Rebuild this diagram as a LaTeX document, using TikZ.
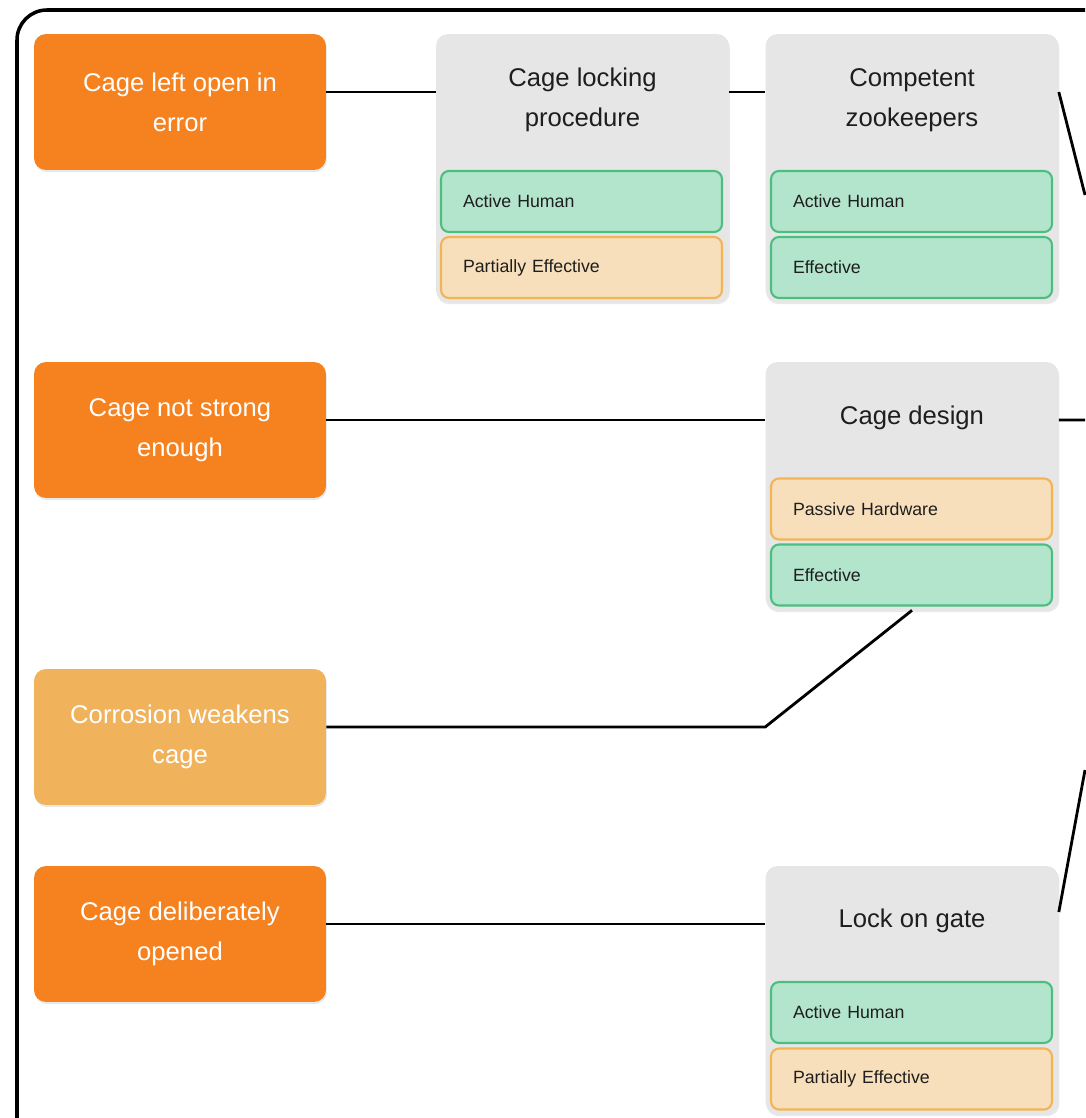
\documentclass[tikz,border=0pt]{standalone}
\usepackage{fontspec}
\setmainfont{Liberation Sans}
\usetikzlibrary{shadows}
\definecolor{causeorange}{RGB}{245,130,31}
\definecolor{causelight}{RGB}{240,178,90}
\definecolor{cardgray}{RGB}{230,230,230}
\definecolor{goodfill}{RGB}{179,229,204}
\definecolor{gooddraw}{RGB}{76,191,128}
\definecolor{partfill}{RGB}{248,223,187}
\definecolor{partdraw}{RGB}{242,180,85}
\definecolor{inkdark}{RGB}{30,30,30}
\begin{document}
\begin{tikzpicture}[x=0.02cm,y=-0.02cm,
	cause/.style={rectangle, rounded corners=0.24cm, fill=causeorange, text=white,
		minimum width=5.84cm, minimum height=2.72cm, align=center,
		font=\fontsize{14.6}{22.7}\selectfont,
		drop shadow={opacity=0.18, shadow xshift=0.5pt, shadow yshift=-1.2pt}},
	card/.style={rectangle, rounded corners=0.24cm, fill=cardgray,
		minimum width=5.86cm, minimum height=#1,
		drop shadow={opacity=0.18, shadow xshift=0.5pt, shadow yshift=-1.2pt}},
	cardtitle/.style={text=inkdark, align=center, font=\fontsize{14.6}{22.7}\selectfont},
	tag/.style={rectangle, rounded corners=0.16cm, line width=1.2pt,
		text width=4.74cm, inner xsep=0.44cm, minimum height=1.22cm, align=left,
		text=inkdark, font=\fontsize{10.1}{12}\selectfont},
	good/.style={tag, fill=goodfill, draw=gooddraw},
	part/.style={tag, fill=partfill, draw=partdraw},
	link/.style={line width=1.6pt, black},
]
	\useasboundingbox (0,0) rectangle (1085,1118);
	\begin{scope}
		\clip (0,0) rectangle (1085,1118);
		\draw[line width=2pt, rounded corners=0.6cm] (17,10) rectangle (1120,1150);
	\end{scope}

	% causes
	\node[cause] (left) at (180,102) {Cage left open in\\error};
	\node[cause] (weak) at (180,430) {Cage not strong\\enough};
	\node[cause, fill=causelight] (rust) at (180,737) {Corrosion weakens\\cage};
	\node[cause] (open) at (180,934) {Cage deliberately\\opened};

	% barriers
	\node[card=5.36cm] (lockproc) at (582.5,168) {};
	\node[cardtitle] at (582.5,100) {Cage locking\\procedure};
	\node[good] at (581.5,201.5) {Active Human};
	\node[part] at (581.5,267.5) {Partially Effective};

	\node[card=5.36cm] (keepers) at (912,168) {};
	\node[cardtitle] at (912,100) {Competent\\zookeepers};
	\node[good] at (911.5,201.5) {Active Human};
	\node[good] at (911.5,267.5) {Effective};

	\node[card=4.96cm] (design) at (912,486) {};
	\node[cardtitle] at (912,418) {Cage design};
	\node[part] at (911.5,509) {Passive Hardware};
	\node[good] at (911.5,575) {Effective};

	\node[card=4.96cm] (gatelock) at (912,990) {};
	\node[cardtitle] at (912,921) {Lock on gate};
	\node[good] at (911.5,1012.5) {Active Human};
	\node[part] at (911.5,1079) {Partially Effective};

	% free ends off the right edge
	\coordinate (outa) at (1085,195);
	\coordinate (outb) at (1085,420);
	\coordinate (outc) at (1085,770);

	% links
	\draw[link] ([yshift=0.2cm]left.east) -- ([yshift=0.2cm]left.east -| lockproc.west);
	\draw[link] ([yshift=0.2cm]left.east -| lockproc.east) -- ([yshift=0.2cm]left.east -| keepers.west);
	\draw[link] ([yshift=0.2cm]left.east -| keepers.east) -- (outa);
	\draw[link] ([yshift=0.2cm]weak.east) -- ([yshift=0.2cm]weak.east -| design.west);
	\draw[link] ([yshift=0.2cm]weak.east -| design.east) -- (outb);
	\draw[link] ([yshift=0.2cm]rust.east) -- ([yshift=0.2cm]rust.east -| design.west) -- (design.south);
	\draw[link] ([yshift=0.2cm]open.east) -- ([yshift=0.2cm]open.east -| gatelock.west);
	\draw[link] ([yshift=1.56cm]gatelock.east) -- (outc);
\end{tikzpicture}
\end{document}
